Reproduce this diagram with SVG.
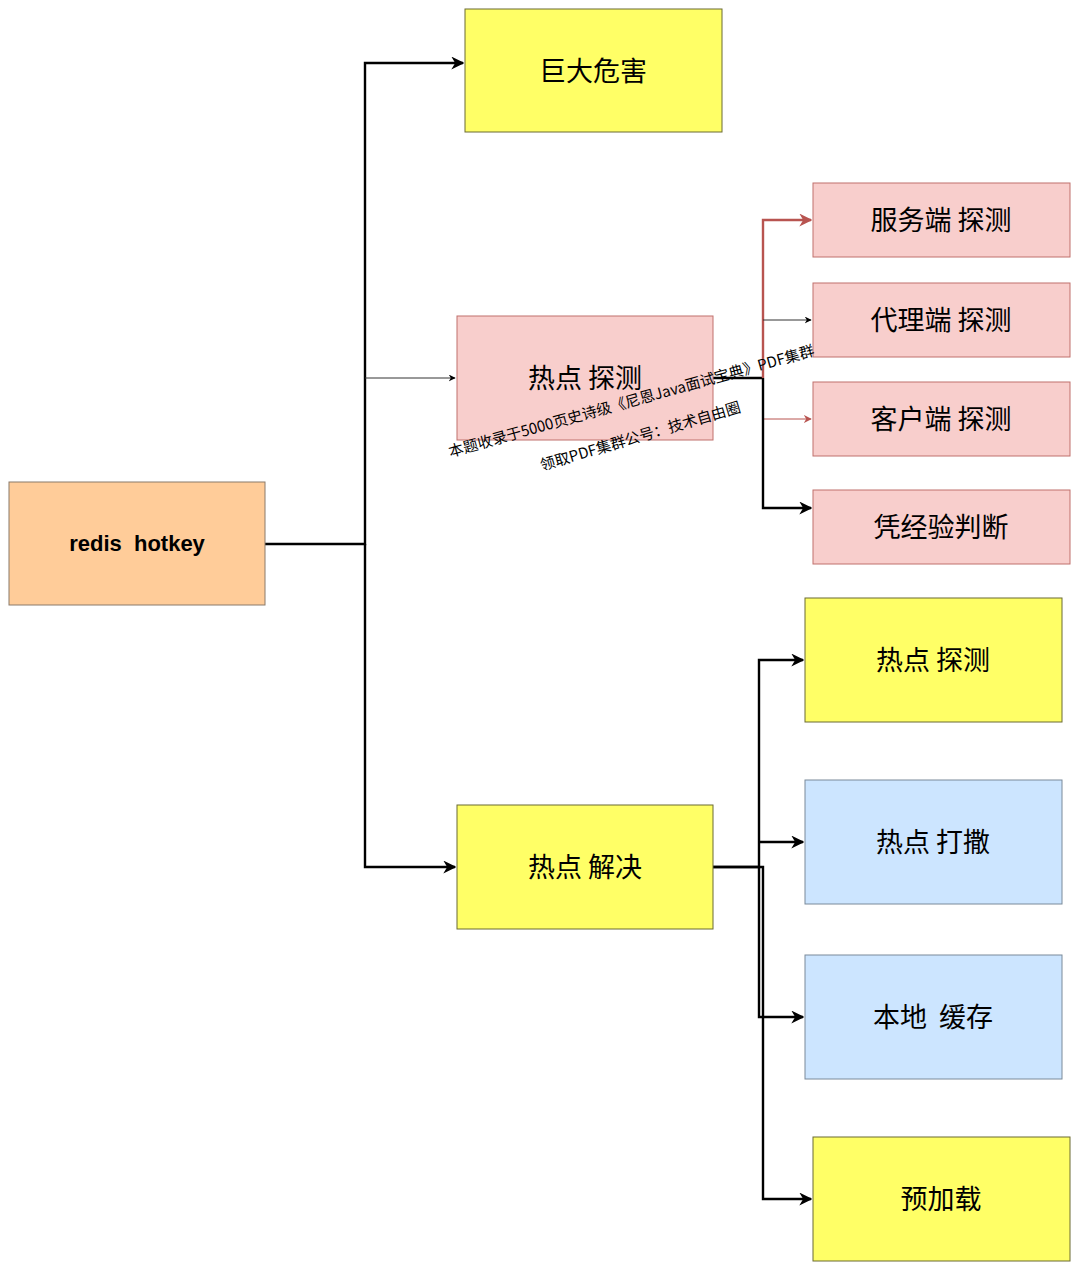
<svg xmlns="http://www.w3.org/2000/svg" width="1080" height="1271" viewBox="0 0 1080 1271">
<defs>
<style>
.n{stroke-width:1}
.y{fill:#FFFF66;stroke:#6b6b33}
.p{fill:#F8CECC;stroke:#c0706c}
.b{fill:#CCE5FF;stroke:#7a8a9a}
.o{fill:#FFCC99;stroke:#8a7a6a}
.t{font-family:"Noto Sans CJK SC","Liberation Sans",sans-serif;font-size:27px;fill:#000;text-anchor:middle;dominant-baseline:central}
.r{font-family:"Liberation Sans","Noto Sans",sans-serif;font-size:22px;font-weight:bold;white-space:pre}
.w{font-family:"Noto Sans CJK SC","Liberation Sans",sans-serif;font-size:15px;fill:#000;text-anchor:middle;dominant-baseline:central}
.c{fill:none;stroke:#000;stroke-width:2.4}
.ct{fill:none;stroke:#333;stroke-width:1}
</style>
<marker id="a" viewBox="0 0 10 10" refX="9" refY="5" markerWidth="7" markerHeight="7" markerUnits="userSpaceOnUse" orient="auto"><path d="M0,0 L10,5 L0,10 L3,5 Z" fill="#000"/></marker>
<marker id="ab" viewBox="0 0 10 10" refX="9" refY="5" markerWidth="13" markerHeight="13" markerUnits="userSpaceOnUse" orient="auto"><path d="M0,0 L10,5 L0,10 L3,5 Z" fill="#000"/></marker>
<marker id="ar" viewBox="0 0 10 10" refX="9" refY="5" markerWidth="13" markerHeight="13" markerUnits="userSpaceOnUse" orient="auto"><path d="M0,0 L10,5 L0,10 L3,5 Z" fill="#b85450"/></marker>
<marker id="art" viewBox="0 0 10 10" refX="9" refY="5" markerWidth="8" markerHeight="8" markerUnits="userSpaceOnUse" orient="auto"><path d="M0,0 L10,5 L0,10 L3,5 Z" fill="#b85450"/></marker>
</defs>
<rect width="1080" height="1271" fill="#fff"/>
<g id="connectors">
<path class="c" d="M265,544 H365 V63 H463" marker-end="url(#ab)"/>
<path class="ct" d="M365,378 H455" marker-end="url(#a)"/>
<path class="c" d="M365,544 V867 H455" marker-end="url(#ab)"/>
<path class="c" d="M713,378 H763"/>
<path fill="none" stroke="#b85450" stroke-width="2.4" d="M763,378 V220 H811" marker-end="url(#ar)"/>
<path class="ct" d="M763,320 H811" marker-end="url(#a)"/>
<path fill="none" stroke="#b85450" stroke-width="1" d="M763,419 H811" marker-end="url(#art)"/>
<path class="c" d="M763,378 V508 H811" marker-end="url(#ab)"/>
<path class="c" d="M713,867 H759 V660 H803" marker-end="url(#ab)"/>
<path class="c" d="M759,842 H803" marker-end="url(#ab)"/>
<path class="c" d="M759,867 V1017 H803" marker-end="url(#ab)"/>
<path class="c" d="M713,867 H763 V1199 H811" marker-end="url(#ab)"/>
</g>
<g id="n-root"><rect class="n o" x="9" y="482" width="256" height="123"/><text class="r" x="137" y="551" text-anchor="middle">redis  hotkey</text></g>
<g id="n-harm"><rect class="n y" x="465" y="9" width="257" height="123"/><text class="t" x="593" y="69">巨大危害</text></g>
<g id="n-detect"><rect class="n p" x="457" y="316" width="256" height="124"/><text class="t" x="585" y="376">热点 探测</text></g>
<g id="n-solve"><rect class="n y" x="457" y="805" width="256" height="124"/><text class="t" x="585" y="865">热点 解决</text></g>
<g id="n-server"><rect class="n p" x="813" y="183" width="257" height="74"/><text class="t" x="941" y="218">服务端 探测</text></g>
<g id="n-proxy"><rect class="n p" x="813" y="283" width="257" height="74"/><text class="t" x="941" y="318">代理端 探测</text></g>
<g id="n-client"><rect class="n p" x="813" y="382" width="257" height="74"/><text class="t" x="941" y="417">客户端 探测</text></g>
<g id="n-exp"><rect class="n p" x="813" y="490" width="257" height="74"/><text class="t" x="941" y="525">凭经验判断</text></g>
<g id="n-detect2"><rect class="n y" x="805" y="598" width="257" height="124"/><text class="t" x="933" y="658">热点 探测</text></g>
<g id="n-scatter"><rect class="n b" x="805" y="780" width="257" height="124"/><text class="t" x="933" y="840">热点 打撒</text></g>
<g id="n-local"><rect class="n b" x="805" y="955" width="257" height="124"/><text class="t" x="933" y="1015" style="white-space:pre">本地  缓存</text></g>
<g id="n-preload"><rect class="n y" x="813" y="1137" width="257" height="124"/><text class="t" x="941" y="1197">预加载</text></g>
<g id="watermark">
<text class="w" transform="translate(631,400) rotate(-15.6)">本题收录于5000页史诗级《尼恩Java面试宝典》PDF集群</text>
<text class="w" transform="translate(640,435) rotate(-16.5)">领取PDF集群公号：技术自由圈</text>
</g>
</svg>
